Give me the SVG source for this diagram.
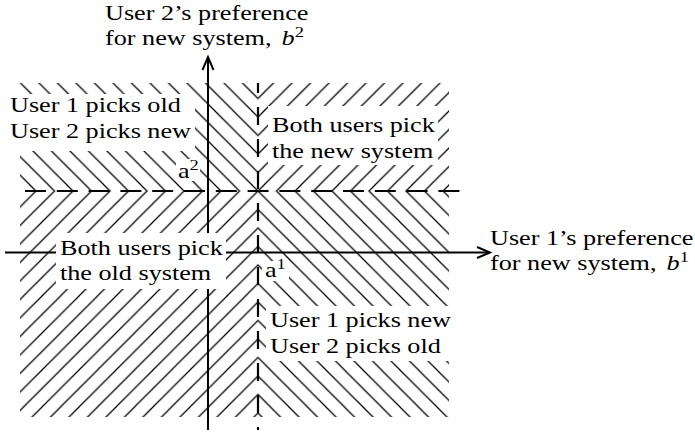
<svg xmlns="http://www.w3.org/2000/svg" width="695" height="437" viewBox="0 0 695 437">
<style>
text{font-family:"Liberation Serif","Times New Roman",serif;font-size:22px;fill:#000}
.sup{font-size:15.5px}
.it{font-style:italic}
.axis{stroke:#000;stroke-width:2;fill:none}
.dash{stroke:#000;stroke-width:2.2;fill:none}
.hatch{stroke:#000;stroke-width:1.25;fill:none}
.box{fill:#fff;stroke:none}
</style>
<defs>
<pattern id="fwd" patternUnits="userSpaceOnUse" x="5" y="0" width="18.5" height="18.5">
<path class="hatch" d="M-1,19.5 L19.5,-1 M-2,2 L2,-2 M16.5,20.5 L20.5,16.5"/>
</pattern>
<pattern id="bwd" patternUnits="userSpaceOnUse" x="11.5" y="0" width="18.5" height="18.5">
<path class="hatch" d="M-1,-1 L19.5,19.5 M16.5,-2 L20.5,2 M-2,16.5 L2,20.5"/>
</pattern>
<marker id="arrow" markerUnits="userSpaceOnUse" markerWidth="30" markerHeight="30" refX="0" refY="0" orient="auto" overflow="visible">
<path d="M-13,-5.5 L0,0 L-13,5.5" fill="none" stroke="#000" stroke-width="2"/>
</marker>
</defs>
<g id="hatching">
<rect x="20" y="83" width="238" height="108" fill="url(#bwd)"/>
<rect x="258" y="83" width="191" height="108" fill="url(#fwd)"/>
<rect x="20" y="191" width="238" height="226" fill="url(#fwd)"/>
<rect x="258" y="191" width="191" height="226" fill="url(#bwd)"/>
</g>
<g id="connectors">
<line id="axis-b2" class="axis" x1="208" y1="430" x2="208" y2="57" marker-end="url(#arrow)"/>
<line id="axis-b1" class="axis" x1="5" y1="252.5" x2="490" y2="252.5" marker-end="url(#arrow)"/>
<line id="threshold-a1" class="dash" x1="258" y1="83" x2="258" y2="430" stroke-dasharray="18 14" stroke-dashoffset="8"/>
<line id="threshold-a2" class="dash" x1="25" y1="191" x2="462" y2="191" stroke-dasharray="21 10.8"/>
</g>
<g id="label-b2">
<text transform="translate(105,20) scale(1.19,1)">User 2’s preference</text>
<text transform="translate(105,45) scale(1.19,1)">for new system, <tspan class="it" dx="3">b</tspan><tspan class="sup" dy="-8">2</tspan></text>
</g>
<g id="label-b1">
<text transform="translate(490,245) scale(1.19,1)">User 1’s preference</text>
<text transform="translate(490,270) scale(1.19,1)">for new system, <tspan class="it" dx="3">b</tspan><tspan class="sup" dy="-8">1</tspan></text>
</g>
<g id="region-old-new">
<rect class="box" x="5" y="94" width="190" height="57"/>
<text transform="translate(10,112) scale(1.19,1)">User 1 picks old</text>
<text transform="translate(10,138) scale(1.19,1)">User 2 picks new</text>
</g>
<g id="region-new-new">
<rect class="box" x="268" y="106" width="170" height="59"/>
<text transform="translate(272,132) scale(1.19,1)">Both users pick</text>
<text transform="translate(272,157.5) scale(1.19,1)">the new system</text>
</g>
<g id="region-old-old">
<rect class="box" x="56" y="233" width="170" height="56"/>
<text transform="translate(60,255) scale(1.19,1)">Both users pick</text>
<text transform="translate(60,280) scale(1.19,1)">the old system</text>
</g>
<g id="region-new-old">
<rect class="box" x="266" y="306" width="189" height="55"/>
<text transform="translate(270,326.5) scale(1.19,1)">User 1 picks new</text>
<text transform="translate(270,352.5) scale(1.19,1)">User 2 picks old</text>
</g>
<g id="label-a2">
<rect class="box" x="176" y="159" width="24" height="22"/>
<text transform="translate(178,178) scale(1.19,1)">a<tspan class="sup" dy="-8">2</tspan></text>
</g>
<g id="label-a1">
<rect class="box" x="262" y="261" width="27" height="20"/>
<text transform="translate(265,277) scale(1.19,1)">a<tspan class="sup" dy="-8">1</tspan></text>
</g>
</svg>
